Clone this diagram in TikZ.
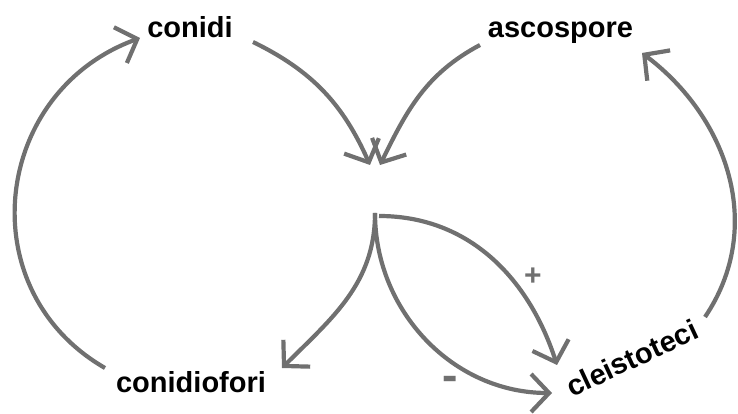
\documentclass[tikz,border=0pt]{standalone}
\usepackage{fontspec}
\usepackage{graphicx}
\setmainfont{Liberation Sans}
\usetikzlibrary{arrows.meta}
\definecolor{linegray}{RGB}{112,112,112}
\tikzset{
  lbl/.style={font=\fontsize{29}{34}\selectfont\bfseries, text=black, inner sep=0pt},
  sign/.style={font=\fontsize{30}{34}\selectfont\bfseries, text=linegray, inner sep=0pt},
  conn/.style={draw=linegray, line width=4.2pt, -{Straight Barb[length=18pt,width=38pt]}},
}
\begin{document}
\begin{tikzpicture}[x=1pt,y=1pt]
\useasboundingbox (0,0) rectangle (738,414);
% labels
\node[lbl, anchor=base] (conidi) at (190,376) {conidi};
\node[lbl, anchor=base] (ascospore) at (560.5,376) {ascospore};
\node[lbl, anchor=base] (conidiofori) at (191,21) {conidiofori};
\node[lbl, rotate=25] (cleistoteci) at (632,56) {cleistoteci};
\node[sign] (plus) at (533,137) {+};
\node[sign] (minus) at (450,29) {\scalebox{0.8}[1.8]{–}};
% hub points
\coordinate (mergeL) at (370,249);
\coordinate (mergeR) at (380,249);
\coordinate (hub) at (375,201);
\coordinate (hubR) at (379,198);
% connector ends near labels
\coordinate (conidiOut) at (253,372);
\coordinate (conidiIn) at (140,376);
\coordinate (ascoOut) at (480,369);
\coordinate (ascoIn) at (642,361);
\coordinate (cofOut) at (105,46);
\coordinate (cofIn) at (282,46);
\coordinate (cleOut) at (705,97);
\coordinate (cleInP) at (557,49);
\coordinate (cleInM) at (552,21);
% connectors
\draw[conn] (cofOut) to[out=150, in=200, distance=157pt] (conidiIn);
\draw[conn] (conidiOut) to[out=-26, in=114] (mergeL);
\draw[conn] (ascoOut) to[out=208, in=64] (mergeR);
\draw[conn] (cleOut) to[out=56, in=-37, distance=108pt] (ascoIn);
\draw[conn] (hub) to[out=-90, in=45] (cofIn);
\draw[conn] (hubR) to[out=0, in=108] (cleInP);
\draw[conn] (hub) to[out=-90, in=180] (cleInM);
\end{tikzpicture}
\end{document}
